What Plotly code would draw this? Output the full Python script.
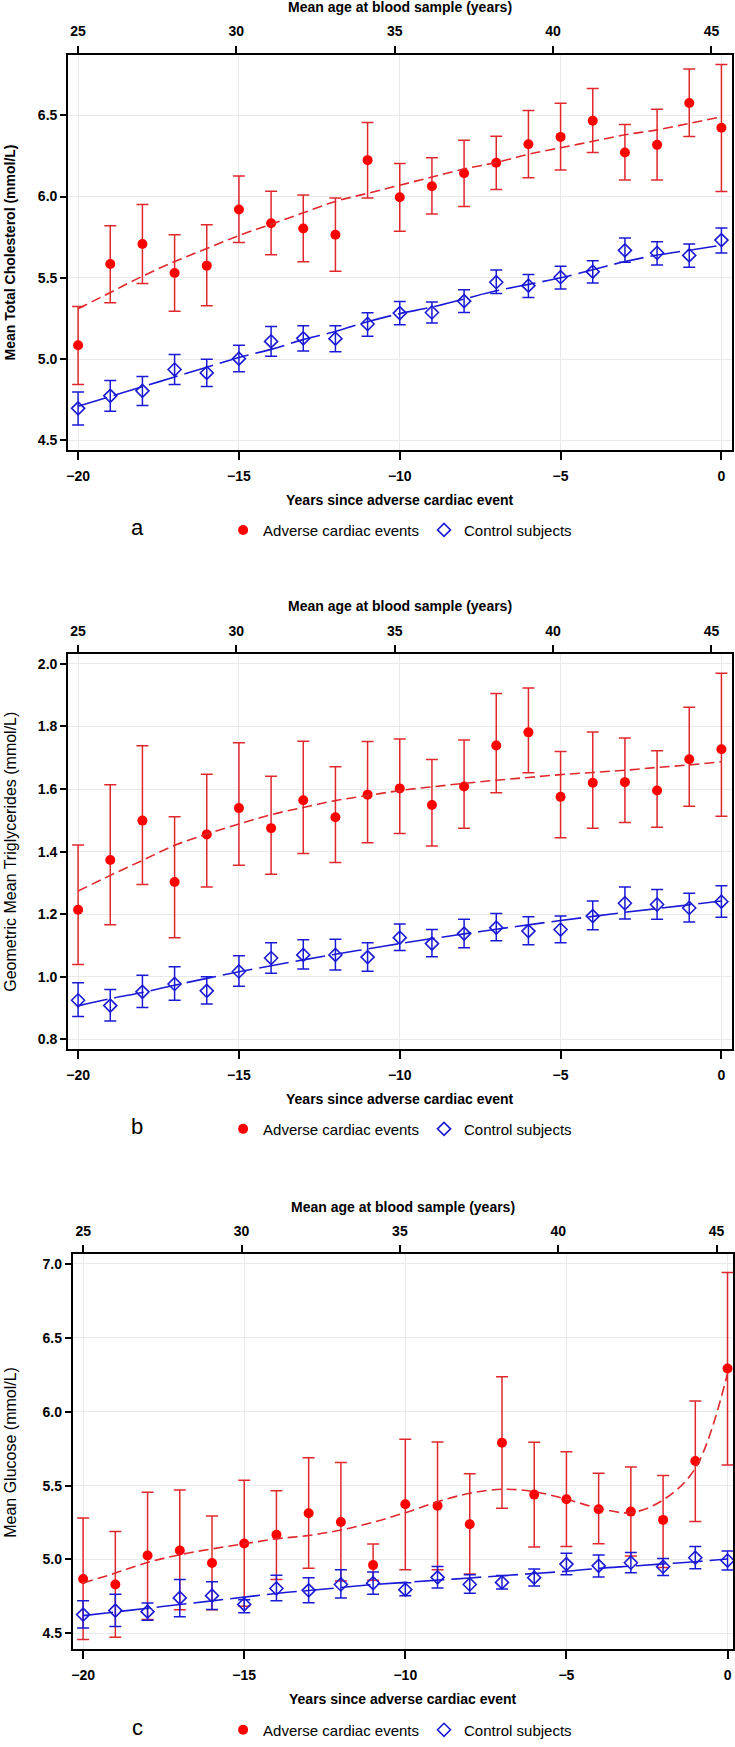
import plotly.graph_objects as go

W, H = 735, 1747

# ---------------- data ----------------
years = list(range(-20, 1))
age_ticks = [25, 30, 35, 40, 45]
year_ticks = [-20, -15, -10, -5, 0]

# Panel a: total cholesterol (mmol/L)
chol_event_mean = [5.085, 5.585, 5.708, 5.530, 5.575, 5.920, 5.836, 5.804, 5.765, 6.224, 5.996,
                   6.063, 6.143, 6.208, 6.322, 6.367, 6.466, 6.271, 6.318, 6.576, 6.423]
chol_event_hi = [5.324, 5.820, 5.951, 5.765, 5.826, 6.126, 6.032, 6.010, 5.991, 6.455, 6.204,
                 6.239, 6.347, 6.371, 6.529, 6.574, 6.664, 6.443, 6.537, 6.784, 6.812]
chol_event_lo = [4.844, 5.346, 5.465, 5.295, 5.328, 5.718, 5.642, 5.599, 5.540, 5.991, 5.787,
                 5.892, 5.939, 6.043, 6.116, 6.163, 6.271, 6.102, 6.102, 6.369, 6.031]
chol_event_fit = [5.31, 5.41, 5.51, 5.60, 5.68, 5.76, 5.83, 5.90, 5.97, 6.02, 6.07,
                  6.12, 6.17, 6.21, 6.26, 6.30, 6.34, 6.38, 6.41, 6.45, 6.49]
chol_ctrl_mean = [4.697, 4.774, 4.805, 4.936, 4.915, 5.003, 5.109, 5.128, 5.126, 5.216, 5.283,
                  5.287, 5.357, 5.473, 5.452, 5.504, 5.538, 5.669, 5.653, 5.638, 5.732]
chol_ctrl_hi = [4.797, 4.868, 4.893, 5.028, 4.999, 5.085, 5.201, 5.205, 5.205, 5.285, 5.354,
                5.352, 5.426, 5.548, 5.520, 5.571, 5.605, 5.745, 5.722, 5.708, 5.806]
chol_ctrl_lo = [4.594, 4.680, 4.715, 4.844, 4.831, 4.922, 5.017, 5.050, 5.046, 5.140, 5.211,
                5.222, 5.287, 5.403, 5.379, 5.432, 5.469, 5.596, 5.579, 5.565, 5.653]
chol_ctrl_fit = [4.71, 4.77, 4.83, 4.89, 4.95, 5.01, 5.06, 5.12, 5.17, 5.23, 5.28,
                 5.32, 5.37, 5.42, 5.46, 5.50, 5.55, 5.60, 5.64, 5.67, 5.70]

# Panel b: geometric mean triglycerides (mmol/L)
tg_event_mean = [1.214, 1.373, 1.499, 1.303, 1.455, 1.539, 1.475, 1.564, 1.510, 1.582, 1.602,
                 1.549, 1.608, 1.739, 1.781, 1.575, 1.620, 1.622, 1.595, 1.695, 1.727]
tg_event_hi = [1.421, 1.614, 1.738, 1.511, 1.647, 1.748, 1.641, 1.753, 1.671, 1.752, 1.760,
               1.694, 1.757, 1.905, 1.923, 1.720, 1.782, 1.763, 1.722, 1.861, 1.970]
tg_event_lo = [1.039, 1.166, 1.295, 1.125, 1.287, 1.356, 1.328, 1.394, 1.365, 1.428, 1.458,
               1.418, 1.475, 1.588, 1.652, 1.444, 1.475, 1.493, 1.478, 1.545, 1.513]
tg_event_fit = [1.274, 1.324, 1.372, 1.420, 1.456, 1.488, 1.518, 1.541, 1.563, 1.579, 1.595,
                1.607, 1.618, 1.628, 1.637, 1.646, 1.653, 1.660, 1.669, 1.677, 1.687]
tg_ctrl_mean = [0.925, 0.908, 0.952, 0.977, 0.955, 1.017, 1.060, 1.070, 1.070, 1.063, 1.125,
                1.106, 1.138, 1.157, 1.146, 1.151, 1.194, 1.235, 1.231, 1.220, 1.240]
tg_ctrl_hi = [0.981, 0.959, 1.005, 1.032, 1.000, 1.067, 1.109, 1.118, 1.120, 1.109, 1.169,
              1.151, 1.184, 1.202, 1.192, 1.194, 1.242, 1.287, 1.279, 1.267, 1.291]
tg_ctrl_lo = [0.873, 0.859, 0.902, 0.925, 0.913, 0.970, 1.011, 1.025, 1.022, 1.018, 1.084,
              1.064, 1.093, 1.115, 1.102, 1.109, 1.150, 1.185, 1.184, 1.175, 1.190]
tg_ctrl_fit = [0.907, 0.930, 0.950, 0.973, 0.995, 1.016, 1.035, 1.054, 1.072, 1.089, 1.106,
               1.122, 1.137, 1.152, 1.166, 1.180, 1.193, 1.206, 1.218, 1.230, 1.242]

# Panel c: glucose (mmol/L)
glu_event_mean = [4.868, 4.831, 5.027, 5.061, 4.976, 5.108, 5.167, 5.313, 5.254, 4.962, 5.374,
                  5.364, 5.239, 5.790, 5.439, 5.408, 5.340, 5.324, 5.268, 5.666, 6.293]
glu_event_hi = [5.281, 5.189, 5.455, 5.470, 5.295, 5.536, 5.466, 5.688, 5.657, 5.104, 5.814,
                5.796, 5.580, 6.237, 5.794, 5.729, 5.583, 5.626, 5.569, 6.073, 6.943]
glu_event_lo = [4.458, 4.474, 4.593, 4.659, 4.659, 4.683, 4.865, 4.940, 4.854, 4.860, 4.931,
                4.931, 4.901, 5.347, 5.084, 5.088, 5.106, 5.023, 4.946, 5.257, 5.639]
glu_event_fit = [4.841, 4.908, 4.980, 5.032, 5.072, 5.106, 5.140, 5.162, 5.200, 5.252, 5.317,
                 5.391, 5.448, 5.475, 5.459, 5.408, 5.347, 5.317, 5.403, 5.617, 6.260]
glu_ctrl_mean = [4.627, 4.654, 4.647, 4.740, 4.755, 4.696, 4.804, 4.791, 4.831, 4.840, 4.796,
                 4.879, 4.831, 4.845, 4.877, 4.969, 4.957, 4.978, 4.951, 5.012, 4.993]
glu_ctrl_hi = [4.721, 4.764, 4.706, 4.865, 4.850, 4.728, 4.894, 4.876, 4.931, 4.915, 4.843,
               4.953, 4.897, 4.892, 4.935, 5.043, 5.030, 5.047, 5.007, 5.088, 5.058]
glu_ctrl_lo = [4.537, 4.546, 4.589, 4.613, 4.661, 4.640, 4.721, 4.708, 4.740, 4.764, 4.755,
               4.807, 4.771, 4.800, 4.820, 4.897, 4.881, 4.910, 4.892, 4.937, 4.928]
glu_ctrl_fit = [4.620, 4.645, 4.670, 4.695, 4.720, 4.745, 4.770, 4.790, 4.810, 4.830, 4.845,
                4.860, 4.875, 4.890, 4.905, 4.920, 4.940, 4.955, 4.970, 4.985, 5.003]

series_names = ["Adverse cardiac events", "Control subjects"]
panel_letters = ["a", "b", "c"]
y_titles = ["Mean Total Cholesterol (mmol/L)",
            "Geometric Mean Triglycerides (mmol/L)",
            "Mean Glucose (mmol/L)"]
x_title = "Years since adverse cardiac event"
top_title = "Mean age at blood sample (years)"

# ---------------- style / layout ----------------
RED_PT = "#ff0000"
RED_LN = "#e0282c"
BLUE = "#1a1ad6"
GRID = "#e9e9e9"
FONT = "Liberation Sans, Arial, sans-serif"


def px(x):
    return x / W


def py(y):
    return 1 - y / H


panels = [
    dict(data=(chol_event_mean, chol_event_lo, chol_event_hi, chol_event_fit,
               chol_ctrl_mean, chol_ctrl_lo, chol_ctrl_hi, chol_ctrl_fit),
         x0=66.4, x1=732.7, top=55, bottom=451.7,
         xr=[-20.31, 0.32], ar=[24.69, 45.64], yr=[4.44, 6.872], dtick=0.5, fmt=".1f",
         t_title=7, b_title=502, legend=532, yt_size=14, yt_bold=True),
    dict(data=(tg_event_mean, tg_event_lo, tg_event_hi, tg_event_fit,
               tg_ctrl_mean, tg_ctrl_lo, tg_ctrl_hi, tg_ctrl_fit),
         x0=66.4, x1=732.7, top=656.7, bottom=1052.7,
         xr=[-20.31, 0.32], ar=[24.69, 45.64], yr=[0.769, 2.03], dtick=0.2, fmt=".1f",
         t_title=608, b_title=1103, legend=1133, yt_size=16, yt_bold=False),
    dict(data=(glu_event_mean, glu_event_lo, glu_event_hi, glu_event_fit,
               glu_ctrl_mean, glu_ctrl_lo, glu_ctrl_hi, glu_ctrl_fit),
         x0=71.1, x1=734, top=1258.7, bottom=1655,
         xr=[-20.32, 0.17], ar=[24.67, 45.52], yr=[4.392, 7.065], dtick=0.5, fmt=".1f",
         t_title=1211, b_title=1705, legend=1736, yt_size=16, yt_bold=False),
]

fig = go.Figure()
layout = dict(
    width=W, height=H, margin=dict(l=0, r=0, t=0, b=0),
    paper_bgcolor="white", plot_bgcolor="white",
    font=dict(family=FONT, color="black"),
    annotations=[],
)

tickfont = dict(family=FONT, size=14, color="black", weight="bold")

for i, p in enumerate(panels):
    n = i + 1
    xa = "x" if n == 1 else f"x{n}"
    ya = "y" if n == 1 else f"y{n}"
    ta = f"x{n + 3}"
    leg = "legend" if n == 1 else f"legend{n}"
    em, elo, ehi, efit, cm, clo, chi, cfit = p["data"]

    # adverse events
    fig.add_trace(go.Scatter(
        x=years, y=em, mode="markers", name=series_names[0],
        xaxis=xa, yaxis=ya, legend=leg,
        marker=dict(symbol="circle", size=10, color=RED_PT),
        error_y=dict(type="data", symmetric=False,
                     array=[h - m for h, m in zip(ehi, em)],
                     arrayminus=[m - l for m, l in zip(em, elo)],
                     color=RED_LN, thickness=1.5, width=6),
    ))
    fig.add_trace(go.Scatter(
        x=years, y=efit, mode="lines", showlegend=False, hoverinfo="skip",
        xaxis=xa, yaxis=ya,
        line=dict(color=RED_LN, width=1.6, dash="10px,5px", shape="spline", smoothing=1.0),
    ))
    # controls
    fig.add_trace(go.Scatter(
        x=years, y=cm, mode="markers", name=series_names[1],
        xaxis=xa, yaxis=ya, legend=leg,
        marker=dict(symbol="diamond-open", size=10, color=BLUE, line=dict(width=1.6, color=BLUE)),
        error_y=dict(type="data", symmetric=False,
                     array=[h - m for h, m in zip(chi, cm)],
                     arrayminus=[m - l for m, l in zip(cm, clo)],
                     color=BLUE, thickness=1.5, width=6),
    ))
    fig.add_trace(go.Scatter(
        x=years, y=cfit, mode="lines", showlegend=False, hoverinfo="skip",
        xaxis=xa, yaxis=ya,
        line=dict(color=BLUE, width=1.6, dash="30px,7px", shape="spline", smoothing=1.0),
    ))
    # helper trace that carries the top (age) axis
    fig.add_trace(go.Scatter(
        x=age_ticks, y=[None] * len(age_ticks), mode="markers", showlegend=False,
        hoverinfo="skip", xaxis=ta, yaxis=ya,
    ))

    dom_x = [px(p["x0"]), px(p["x1"])]
    dom_y = [py(p["bottom"]), py(p["top"])]
    xkey = "xaxis" if n == 1 else f"xaxis{n}"
    ykey = "yaxis" if n == 1 else f"yaxis{n}"
    layout[xkey] = dict(
        domain=dom_x, anchor=ya, range=p["xr"], tickvals=year_ticks,
        ticks="outside", ticklen=8, tickwidth=1.5, tickcolor="black",
        showline=True, linecolor="black", linewidth=2, mirror=True,
        showgrid=True, gridcolor=GRID, gridwidth=1, zeroline=False,
        tickfont=tickfont, ticklabelstandoff=4,
    )
    layout[ykey] = dict(
        domain=dom_y, anchor=xa, range=p["yr"], dtick=p["dtick"], tick0=0,
        tickformat=p["fmt"],
        ticks="outside", ticklen=6, tickwidth=1.5, tickcolor="black",
        showline=True, linecolor="black", linewidth=2, mirror=True,
        showgrid=True, gridcolor=GRID, gridwidth=1, zeroline=False,
        tickfont=tickfont,
    )
    layout[f"xaxis{n + 3}"] = dict(
        overlaying=xa, anchor=ya, side="top", range=p["ar"], tickvals=age_ticks,
        ticks="outside", ticklen=8, tickwidth=1.5, tickcolor="black",
        showline=False, showgrid=False, zeroline=False,
        tickfont=tickfont, ticklabelstandoff=4,
    )
    cx = (p["x0"] + p["x1"]) / 2
    cy = (p["top"] + p["bottom"]) / 2
    layout["annotations"] += [
        dict(text=top_title, x=px(cx), y=py(p["t_title"]), xref="paper", yref="paper",
             xanchor="center", yanchor="middle", showarrow=False,
             font=dict(family=FONT, size=14, weight="bold")),
        dict(text=x_title, x=px(cx), y=py(p["b_title"]), xref="paper", yref="paper",
             xanchor="center", yanchor="middle", showarrow=False,
             font=dict(family=FONT, size=14, weight="bold")),
        dict(text=y_titles[i], x=px(9), y=py(cy), xref="paper", yref="paper",
             xanchor="center", yanchor="middle", showarrow=False, textangle=-90,
             font=dict(family=FONT, size=p["yt_size"],
                       weight="bold" if p["yt_bold"] else "normal")),
        dict(text=panel_letters[i], x=px(136), y=py(p["legend"] - 3), xref="paper", yref="paper",
             xanchor="center", yanchor="middle", showarrow=False,
             font=dict(family=FONT, size=22)),
    ]
    layout[leg] = dict(
        orientation="h", x=px(222), xanchor="left", y=py(p["legend"]), yanchor="middle",
        font=dict(family=FONT, size=15, color="black"), bgcolor="rgba(0,0,0,0)",
        itemwidth=30, borderwidth=0,
    )

fig.update_layout(**layout)

# remove the page's default body margin so the 735x1747 figure fills the window exactly
page_fix = ("document.body.style.margin='0';document.body.style.padding='0';"
            "document.body.style.overflow='hidden';"
            "document.documentElement.style.overflow='hidden';")
fig.write_html("out.html", post_script=page_fix, config={"displayModeBar": False})
